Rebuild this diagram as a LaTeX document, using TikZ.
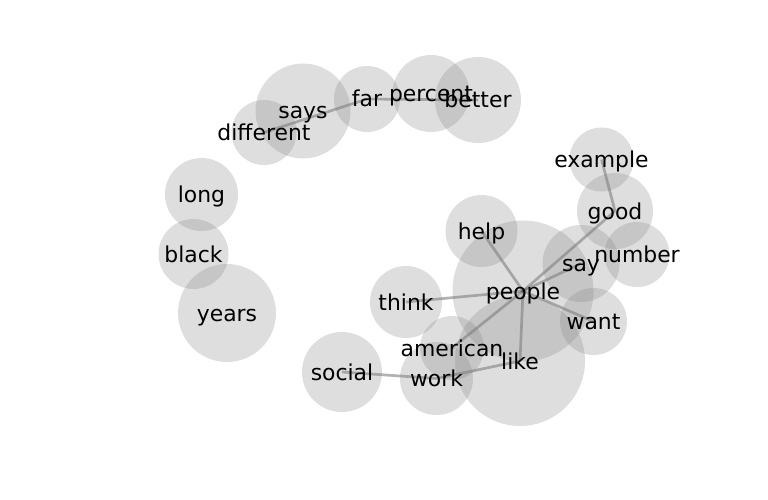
\documentclass[tikz,border=0pt]{standalone}
\usepackage{fontspec}
\setmainfont{DejaVu Sans}
\begin{document}
\begin{tikzpicture}[x=1pt,y=-1pt,
  bubble/.style={fill=gray,fill opacity=0.26,draw=none},
  edge/.style={draw=black,draw opacity=0.3,line width=2.7pt},
  word/.style={anchor=base,yshift=-8pt,inner sep=0pt,font=\fontsize{21.9}{26}\selectfont,text=black}]
\useasboundingbox (0,0) rectangle (768,500);
% node positions
\coordinate (says) at (303,111);
\coordinate (different) at (264,132.5);
\coordinate (far) at (367,99);
\coordinate (percent) at (431,93.5);
\coordinate (better) at (478,100);
\coordinate (example) at (601.5,159.5);
\coordinate (good) at (615,211);
\coordinate (help) at (481.5,231);
\coordinate (number) at (637,254.5);
\coordinate (say) at (581,263.5);
\coordinate (long) at (201.5,194.5);
\coordinate (black) at (193.5,254);
\coordinate (people) at (523,291);
\coordinate (think) at (406,302);
\coordinate (years) at (227,313);
\coordinate (want) at (593.5,321.5);
\coordinate (american) at (452,348);
\coordinate (like) at (520,361);
\coordinate (social) at (342,372);
\coordinate (work) at (436.5,378.5);
% edges
\draw[edge] (people) -- (help);
\draw[edge] (people) -- (think);
\draw[edge] (people) -- (good);
\draw[edge] (people) -- (say);
\draw[edge] (people) -- (want);
\draw[edge] (people) -- (american);
\draw[edge] (people) -- (like);
\draw[edge] (like) -- (work);
\draw[edge] (work) -- (social);
\draw[edge] (example) -- (good);
\draw[edge] (different) -- (far);
\draw[edge] (far) -- (better);
% bubbles
\fill[bubble] (says) circle[radius=47.5];
\fill[bubble] (different) circle[radius=32.5];
\fill[bubble] (far) circle[radius=33];
\fill[bubble] (percent) circle[radius=38.5];
\fill[bubble] (better) circle[radius=43];
\fill[bubble] (example) circle[radius=32];
\fill[bubble] (good) circle[radius=38];
\fill[bubble] (help) circle[radius=36];
\fill[bubble] (number) circle[radius=32.5];
\fill[bubble] (say) circle[radius=38.5];
\fill[bubble] (long) circle[radius=36.5];
\fill[bubble] (black) circle[radius=35];
\fill[bubble] (people) circle[radius=70.5];
\fill[bubble] (think) circle[radius=36];
\fill[bubble] (years) circle[radius=49];
\fill[bubble] (want) circle[radius=33.5];
\fill[bubble] (american) circle[radius=32];
\fill[bubble] (like) circle[radius=65];
\fill[bubble] (social) circle[radius=40];
\fill[bubble] (work) circle[radius=36.5];
% labels
\node[word] (t-says) at (says) {says};
\node[word] (t-different) at (different) {different};
\node[word] (t-far) at (far) {far};
\node[word] (t-percent) at (percent) {percent};
\node[word] (t-better) at (better) {better};
\node[word] (t-example) at (example) {example};
\node[word] (t-good) at (good) {good};
\node[word] (t-help) at (help) {help};
\node[word] (t-number) at (number) {number};
\node[word] (t-say) at (say) {say};
\node[word] (t-long) at (long) {long};
\node[word] (t-black) at (black) {black};
\node[word] (t-people) at (people) {people};
\node[word] (t-think) at (think) {think};
\node[word] (t-years) at (years) {years};
\node[word] (t-want) at (want) {want};
\node[word] (t-american) at (american) {american};
\node[word] (t-like) at (like) {like};
\node[word] (t-social) at (social) {social};
\node[word] (t-work) at (work) {work};
\end{tikzpicture}
\end{document}
